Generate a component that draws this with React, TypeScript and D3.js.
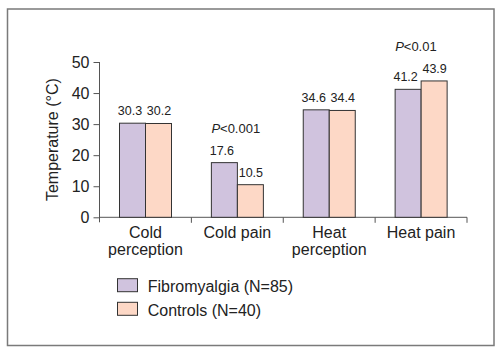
import { useEffect, useRef } from 'react';
import * as d3 from 'd3';

const categories = [['Cold', 'perception'], ['Cold pain'], ['Heat', 'perception'], ['Heat pain']];
const seriesNames = ['Fibromyalgia (N=85)', 'Controls (N=40)'];
const fibromyalgia = [30.3, 17.6, 34.6, 41.2];
const controls = [30.2, 10.5, 34.4, 43.9];
const pValues = ['', '<0.001', '', '<0.01'];
const yTicks = [0, 10, 20, 30, 40, 50];

const colors = ['#d0c3de', '#fdd8c6'];
const font = 'Arial, "Liberation Sans", Helvetica, sans-serif';

export default function App() {
    const ref = useRef<SVGSVGElement>(null);

    useEffect(() => {
        const svg = d3.select(ref.current);
        svg.selectAll('*').remove();

        const keys = categories.map((c, i) => String(i));
        const series = [fibromyalgia, controls];

        const x = d3.scaleBand<string>().domain(keys).range([99.5, 467]).padding(0);
        const inner = d3.scaleBand<number>().domain([0, 1]).range([20, 72]);
        const y = d3.scaleLinear().domain([0, 50]).range([217.3, 62]);

        // frame
        svg.append('rect')
            .attr('x', 7.5).attr('y', 9)
            .attr('width', 486.5).attr('height', 336.5)
            .attr('fill', 'white')
            .attr('stroke', '#7a7a7a')
            .attr('stroke-width', 1.5);

        // y axis
        const yAxis = svg.append('g')
            .attr('transform', 'translate(99.5,0)')
            .call(d3.axisLeft(y).tickValues(yTicks).tickSize(6).tickPadding(4));
        yAxis.select('.domain').attr('stroke', '#555').attr('d', `M0,${y(50)}V${y(0) + 5}`);
        yAxis.selectAll('line').attr('stroke', '#555');
        yAxis.selectAll('text')
            .attr('font-family', font).attr('font-size', 16).attr('fill', '#222');

        // x axis line with ticks at band boundaries
        const xAxis = svg.append('g');
        xAxis.append('line')
            .attr('x1', x.range()[0]).attr('x2', x.range()[1])
            .attr('y1', y(0)).attr('y2', y(0))
            .attr('stroke', '#555');
        xAxis.selectAll('.tick')
            .data(keys.slice(1).concat(['end']))
            .enter()
            .append('line')
            .attr('x1', d => d === 'end' ? x.range()[1] : x(d)!)
            .attr('x2', d => d === 'end' ? x.range()[1] : x(d)!)
            .attr('y1', y(0)).attr('y2', y(0) + 5.5)
            .attr('stroke', '#555');

        // category labels
        categories.forEach((lines, i) => {
            const t = svg.append('text')
                .attr('x', x(String(i))! + x.bandwidth() / 2)
                .attr('y', 238.3)
                .attr('text-anchor', 'middle')
                .attr('font-family', font).attr('font-size', 16).attr('fill', '#222');
            lines.forEach((l, j) => {
                t.append('tspan')
                    .attr('x', x(String(i))! + x.bandwidth() / 2)
                    .attr('dy', j === 0 ? 0 : 17)
                    .text(l);
            });
        });

        // bars
        series.forEach((vals, s) => {
            svg.append('g')
                .selectAll('rect')
                .data(vals)
                .enter()
                .append('rect')
                .attr('x', (d, i) => x(String(i))! + inner(s)!)
                .attr('y', d => y(d))
                .attr('width', inner.bandwidth())
                .attr('height', d => y(0) - y(d))
                .attr('fill', colors[s])
                .attr('stroke', '#333')
                .attr('stroke-width', 1);

            svg.append('g')
                .selectAll('text')
                .data(vals)
                .enter()
                .append('text')
                .attr('x', (d, i) => x(String(i))! + inner(s)! + inner.bandwidth() / 2 + (s === 0 ? -2.5 : 0.5))
                .attr('y', d => y(d) - 8)
                .attr('text-anchor', 'middle')
                .attr('font-family', font).attr('font-size', 12.5).attr('fill', '#222')
                .text(d => d.toFixed(1));
        });

        // p-values
        pValues.forEach((p, i) => {
            if (!p) return;
            const top = Math.max(fibromyalgia[i], controls[i]);
            const t = svg.append('text')
                .attr('x', x(String(i))! + inner(0)!)
                .attr('y', y(top) - 30)
                .attr('font-family', font).attr('font-size', 13).attr('fill', '#222');
            t.append('tspan').attr('font-style', 'italic').text('P');
            t.append('tspan').text(p);
        });

        // y label
        svg.append('text')
            .attr('transform', `translate(57.5,${(y(0) + y(50)) / 2}) rotate(-90)`)
            .attr('text-anchor', 'middle')
            .attr('font-family', font).attr('font-size', 16).attr('fill', '#222')
            .text('Temperature (°C)');

        // legend
        seriesNames.forEach((name, s) => {
            const ly = 278.7 + s * 23.6;
            svg.append('rect')
                .attr('x', 117.5).attr('y', ly)
                .attr('width', 20).attr('height', 13)
                .attr('fill', colors[s]).attr('stroke', '#333');
            svg.append('text')
                .attr('x', 147.7).attr('y', ly + 13.5)
                .attr('font-family', font).attr('font-size', 16).attr('fill', '#222')
                .text(name);
        });
    }, []);

    return (
        <svg ref={ref} width={500} height={352}
            style={{ position: 'absolute', left: 0, top: 0, background: 'white' }} />
    );
}
